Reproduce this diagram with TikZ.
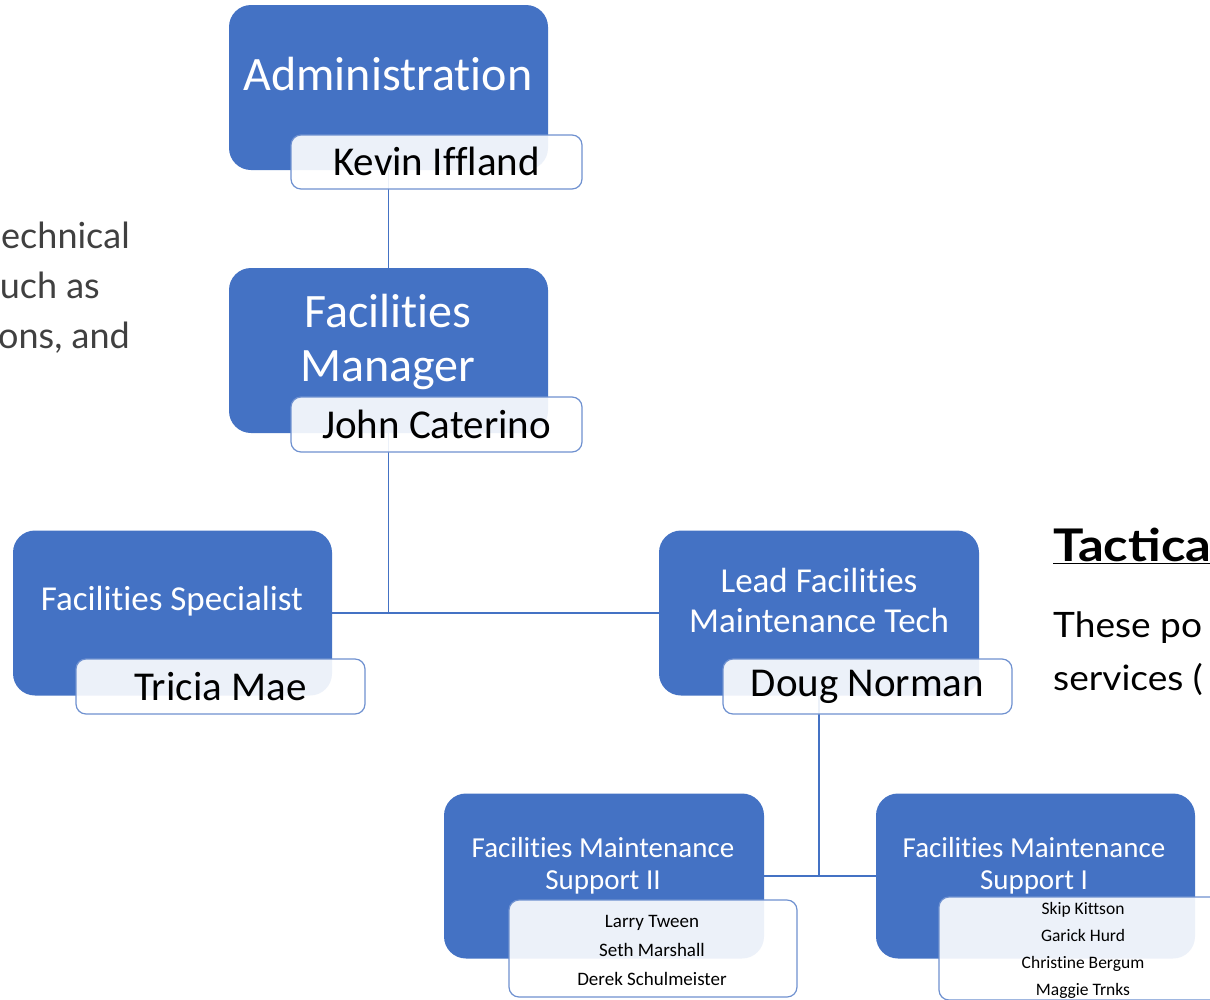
\documentclass[tikz,border=0pt]{standalone}
\usepackage{fontspec}
\setmainfont{Carlito}[Ligatures={NoCommon}]
\newfontfamily\gill{Lato}
\definecolor{boxblue}{HTML}{4472C4}
\definecolor{edgeblue}{HTML}{6F91D0}
\definecolor{sidegray}{HTML}{404040}
\begin{document}
\begin{tikzpicture}[x=1pt,y=-1pt,
  role/.style={fill=boxblue, rounded corners=22pt, minimum width=319pt, minimum height=165pt, inner sep=0pt},
  roletext/.style={text=white, align=center, inner sep=0pt},
  namebox/.style={draw=edgeblue, line width=1.2pt, fill=white, fill opacity=0.9, text opacity=1, rounded corners=10pt, minimum width=290pt, minimum height=55pt, inner sep=0pt, align=center, font=\fontsize{41}{44}\selectfont},
  namelist/.style={inner sep=0pt, align=center, text=black},
  link/.style={draw=boxblue, line width=1.5pt},
  side/.style={inner sep=0pt, text=sidegray, font=\gill\fontsize{36}{40}\selectfont},
  rside/.style={inner sep=0pt, text=black, font=\gill\fontsize{35}{40}\selectfont}
]
\fill[white] (0,0) rectangle (1210,999);
\useasboundingbox (0,0) rectangle (1210,999);

% side texts
\node[side, anchor=base east] (s1) at (130,248) {echnical};
\node[side, anchor=base east] (s2) at (100,298) {uch as};
\node[side, anchor=base east] (s3) at (130,348) {ons, and};
\node[inner sep=0pt, anchor=base west, font=\gill\bfseries\fontsize{45}{48}\selectfont] (tac) at (1053,561) {\underline{\scalebox{1.13}[1]{Tactica}}};
\node[rside, anchor=base west] (r1) at (1053,637) {\scalebox{1.06}[1]{These po}};
\node[rside, anchor=base west] (r2) at (1053,690) {\scalebox{1.06}[1]{services (}};

% role boxes
\node[role] (admin) at (388.5,87.5) {};
\node[role] (fm) at (388.5,350.5) {};
\node[role] (spec) at (172.5,613) {};
\node[role, minimum width=320pt] (lead) at (819,613) {};
\node[role, minimum width=320pt] (fms2) at (604,876) {};
\node[role] (fms1) at (1035.5,876) {};

% connectors
\draw[link] (admin.south) -- (fm.north);
\draw[link] (fm.south) -- (fm.south |- spec.east);
\draw[link] (spec.east) -- (lead.west);
\draw[link] (lead.south) -- (lead.south |- fms2.east);
\draw[link] (fms2.east) -- (fms1.west);

% role titles
\node[roletext, font=\fontsize{48}{54}\selectfont] (admT) at (388,74) {Administration};
\node[roletext, font=\fontsize{48}{54}\selectfont] (fmT) at (388,342) {Facilities\\Manager};
\node[roletext, font=\fontsize{35}{40}\selectfont] (specT) at (172,601) {Facilities Specialist};
\node[roletext, font=\fontsize{35}{40}\selectfont] (leadT) at (819,600) {Lead Facilities\\Maintenance Tech};
\node[roletext, font=\fontsize{29}{32}\selectfont] (fms2T) at (603,866) {Facilities Maintenance\\Support II};
\node[roletext, font=\fontsize{29}{32}\selectfont] (fms1T) at (1034,866) {Facilities Maintenance\\Support I};

% name boxes
\node[namebox, minimum width=291pt, minimum height=54pt] (kevin) at (436.5,162) {\raisebox{1pt}{Kevin Iffland}};
\node[namebox, minimum width=291pt] (john) at (436.5,424.5) {John Caterino};
\node[namebox, minimum width=289pt] (tricia) at (220.5,686.5) {Tricia Mae};
\node[namebox, minimum width=289pt] (doug) at (867.5,686.5) {Doug Norman};
\node[namebox, minimum width=288pt, minimum height=97pt] (fms2N) at (653,948.5) {};
\node[namelist, font=\fontsize{19}{29}\selectfont] (fms2L) at (652,950.5) {Larry Tween\\Seth Marshall\\Derek Schulmeister};
\node[namebox, minimum width=288pt, minimum height=103pt] (fms1N) at (1083,948.5) {};
\node[namelist, font=\fontsize{17.5}{27}\selectfont] (fms1L) at (1083,950.5) {Skip Kittson\\Garick Hurd\\Christine Bergum\\Maggie Trnks};
\end{tikzpicture}
\end{document}
